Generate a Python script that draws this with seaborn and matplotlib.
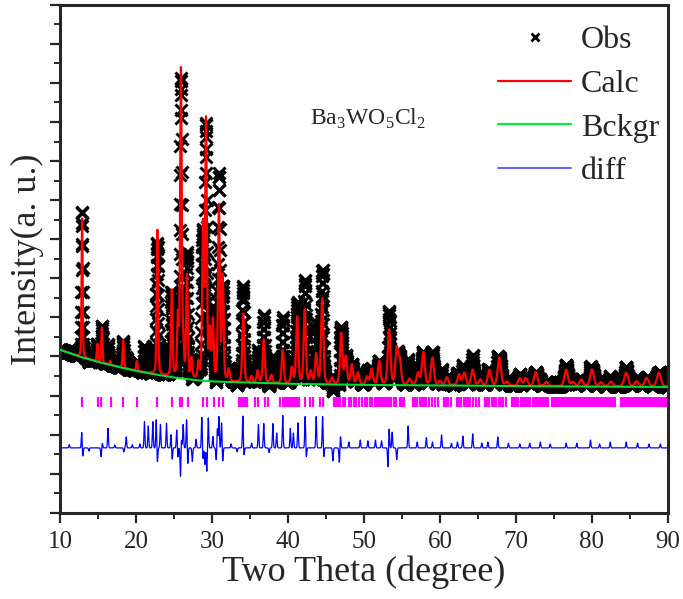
import numpy as np
import pandas as pd
import seaborn as sns
import matplotlib.pyplot as plt
from matplotlib.lines import Line2D
from matplotlib.ticker import MultipleLocator

# background points (2theta, intensity in axis units)
bkg_x = [10, 12.5, 15, 17.5, 20, 22.5, 25, 27.5, 30, 35, 40, 50, 60, 70, 80, 90]
bkg_y = [4.17, 4.0, 3.86, 3.74, 3.63, 3.54, 3.46, 3.40, 3.36, 3.33, 3.30, 3.27, 3.26, 3.24, 3.23, 3.22]

# calculated reflections: position and height above background
peak_pos = [12.9, 14.9, 15.5, 16.6, 18.3, 20.1, 22.8, 24.7, 25.5, 25.9, 26.2, 26.7,
            27.3, 28.2, 28.8, 29.2, 29.7, 30.1, 30.9, 31.4, 32.2, 34.1, 35.2, 36.0,
            36.8, 37.8, 39.3, 40.5, 41.2, 42.2, 43.0, 43.7, 44.5, 45.8, 47.0, 47.6,
            48.4, 49.2, 50.4, 51.0, 52.0, 53.3, 54.3, 54.7, 56.0, 57.1, 57.8, 59.0,
            60.0, 60.9, 62.5, 63.2, 64.3, 65.3, 66.5, 67.8, 68.8, 70.5, 71.3, 72.6,
            74.0, 76.6, 77.5, 78.6, 80.0, 81.2, 82.5, 84.5, 85.9, 87.2, 88.8]
peak_height = [3.55, 0.45, 0.9, 0.1, 0.7, 0.25, 3.7, 2.2, 1.5, 7.85, 0.8, 2.6,
               0.5, 0.4, 3.9, 6.6, 1.2, 1.5, 4.45, 2.65, 0.3, 1.75, 0.15, 0.3,
               1.1, 0.2, 0.85, 0.4, 1.7, 1.9, 0.3, 0.75, 2.18, 0.15, 1.3, 0.7,
               0.5, 0.3, 0.2, 0.4, 0.6, 1.4, 0.9, 0.6, 0.15, 0.3, 0.83, 0.7,
               0.1, 0.2, 0.27, 0.32, 0.4, 0.15, 0.4, 0.72, 0.1, 0.2, 0.2, 0.35,
               0.1, 0.42, 0.1, 0.17, 0.43, 0.1, 0.12, 0.35, 0.13, 0.22, 0.36]

# difference curve spikes (position, amplitude relative to its baseline)
diff_base = 1.66
diff_pos = [11.2, 12.85, 12.97, 13.8, 15.4, 15.55, 16.3, 17.2, 18.4, 18.7, 19.5, 20.5,
            21.1, 21.6, 22.2, 22.65, 22.8, 23.2, 24.0, 24.6, 24.75, 25.35, 25.5, 25.85,
            25.95, 26.2, 26.65, 26.8, 27.4, 27.9, 28.65, 28.8, 29.05, 29.3, 29.5, 30.1,
            30.55, 30.7, 30.9, 31.25, 31.4, 32.5, 33.3, 34.05, 34.2, 35.2, 36.1, 36.8,
            37.5, 38.0, 38.5, 39.3, 40.3, 40.7, 41.3, 42.25, 42.4, 43.7, 44.55, 44.7,
            45.9, 46.75, 46.9, 48.0, 49.5, 50.5, 51.5, 52.3, 53.15, 53.3, 53.7, 54.3,
            55.8, 57.0, 58.2, 59.0, 60.2, 61.5, 62.3, 63.0, 64.3, 65.5, 66.3, 67.6,
            69.0, 70.5, 71.8, 73.2, 74.5, 76.6, 78.0, 79.8, 81.0, 82.4, 84.5, 86.0,
            87.5, 89.0]
diff_amp = [0.08, 0.42, -0.25, -0.08, -0.23, 0.12, 0.5, 0.07, -0.1, 0.28, 0.08, 0.1,
            0.67, 0.56, 0.67, 0.74, -0.38, 0.6, 0.63, 0.35, -0.3, 0.47, -0.25, -0.79,
            0.3, 0.6, 0.74, -0.43, -0.35, 0.22, 0.8, -0.3, -0.43, -0.6, 0.77, 0.29,
            -0.32, 0.5, 0.8, 0.66, -0.36, 0.1, -0.1, 0.83, -0.2, 0.12, 0.6, 0.62,
            -0.12, 0.62, 0.38, 0.83, 0.5, 0.38, 0.64, 0.82, -0.25, 0.8, 0.82, -0.25,
            -0.33, -0.38, 0.3, 0.15, 0.2, 0.18, 0.2, 0.18, -0.5, 0.5, 0.4, -0.3,
            0.56, 0.15, 0.26, 0.15, 0.33, 0.12, 0.15, 0.3, 0.36, 0.12, 0.15, 0.28,
            0.12, 0.1, 0.12, 0.15, 0.1, 0.12, 0.12, 0.2, 0.1, 0.15, 0.15, 0.12,
            0.1, 0.1]

# Bragg positions (magenta ticks)
bragg_pos = [12.85, 14.96, 15.35, 16.67, 18.33, 20.18, 22.8, 24.7, 25.8, 26.1, 26.8,
             28.86, 29.3, 30.26, 30.96, 31.4, 33.6, 33.8, 34.0, 34.2, 34.4, 34.6, 35.66,
             36.1, 37.0, 37.3, 39.0, 39.3, 39.6, 39.9, 40.1, 40.4, 40.6, 40.9, 41.2,
             41.5, 42.2, 42.9, 43.3, 44.2, 44.65, 46.0, 46.3, 46.6, 46.9, 47.2, 47.5,
             48.0, 48.3, 48.7, 49.0, 49.4, 49.7, 50.1, 50.4, 50.8, 51.1, 51.4, 51.7,
             52.0, 52.2, 52.5, 52.8, 53.0, 53.3, 53.6, 53.9, 54.2, 54.7, 55.0, 55.3,
             56.4, 56.7, 57.0, 57.3, 57.6, 57.9, 58.2, 58.6, 59.0, 59.4, 59.7, 60.5,
             60.8, 61.1, 61.4, 62.2, 62.5, 62.8, 63.1, 63.4, 63.7, 64.0, 64.4, 64.8,
             65.1, 65.9, 66.2, 66.5, 66.8, 67.1, 67.4, 67.7, 68.0, 68.3, 68.7, 69.5,
             69.7, 69.9, 70.1, 70.3, 70.6, 70.8, 71.0, 71.2, 71.5, 71.7, 71.9, 72.2,
             72.4, 72.6, 72.9, 73.1, 73.4, 73.7, 74.0, 74.2, 74.7, 74.9, 75.1, 75.3,
             75.5, 75.7, 75.9, 76.1, 76.3, 76.5, 76.7, 76.9, 77.1, 77.3, 77.5, 77.7,
             77.9, 78.1, 78.3, 78.5, 78.7, 78.9, 79.1, 79.3, 79.5, 79.8, 80.0, 80.2,
             80.4, 80.6, 80.9, 81.1, 81.3, 81.6, 81.8, 82.0, 82.3, 82.5, 82.8, 83.0,
             83.8, 84.0, 84.2, 84.4, 84.6, 84.8, 85.0, 85.2, 85.4, 85.6, 85.8, 86.0,
             86.2, 86.4, 86.6, 86.8, 87.0, 87.2, 87.4, 87.6, 87.8, 88.0, 88.2, 88.4,
             88.6, 88.8, 89.0, 89.2, 89.4, 89.6, 89.8]

# profile built from the reflection list (pseudo-Voigt shapes)
tt = np.arange(10, 90.001, 0.02)
bkg = np.interp(tt, bkg_x, bkg_y)
calc = bkg.copy()
for p, h in zip(peak_pos, peak_height):
    w = 0.15 + 0.006 * (p - 10)
    g = np.exp(-4 * np.log(2) * ((tt - p) / w) ** 2)
    lz = 1 / (1 + 4 * ((tt - p) / w) ** 2)
    calc += h * (0.7 * g + 0.3 * lz)
diff = np.full_like(tt, diff_base)
for p, a in zip(diff_pos, diff_amp):
    diff += a * np.exp(-0.5 * ((tt - p) / 0.06) ** 2)
obs = calc + diff - diff_base

df = pd.DataFrame({"tt": tt, "obs": obs, "calc": calc, "bkg": bkg, "diff": diff})

sns.set_style("ticks")
plt.rcParams['font.family'] = ['Liberation Serif', 'DejaVu Serif']
plt.rcParams['mathtext.fontset'] = 'custom'
plt.rcParams['mathtext.rm'] = 'Liberation Serif'

fig, ax = plt.subplots(figsize=(6.83, 5.99), dpi=100)
fig.subplots_adjust(left=0.088, right=0.978, bottom=0.144, top=0.992)

sns.scatterplot(data=df, x="tt", y="obs", marker="x", color="black", s=75,
                linewidth=2.1, ax=ax, legend=False, zorder=2)
sns.lineplot(data=df, x="tt", y="calc", color="red", lw=1.6, ax=ax, zorder=3)
sns.lineplot(data=df, x="tt", y="bkg", color="#00dd33", lw=1.5, ax=ax, zorder=4)
ax.vlines(bragg_pos, 2.71, 2.97, color="#ff00ff", lw=1.6, zorder=4)
sns.lineplot(data=df, x="tt", y="diff", color="#0000ff", lw=0.9, ax=ax, zorder=4)

ax.text(42.9, 9.93, r"Ba$_3$WO$_5$Cl$_2$", fontsize=17, va="baseline")

ax.set_xlim(10, 90)
ax.set_ylim(0, 13)
ax.xaxis.set_major_locator(MultipleLocator(10))
ax.xaxis.set_minor_locator(MultipleLocator(5))
ax.yaxis.set_major_locator(MultipleLocator(1))
ax.yaxis.set_minor_locator(MultipleLocator(0.5))
ax.tick_params(which="major", length=7, width=1.6, labelsize=18, pad=6)
ax.tick_params(which="minor", length=4, width=1.4)
ax.tick_params(axis="y", labelleft=False)
for s in ax.spines.values():
    s.set_linewidth(2.2)
ax.set_xlabel("Two Theta (degree)", fontsize=26, labelpad=2)
ax.set_ylabel("Intensity(a. u.)", fontsize=26, labelpad=4)

handles = [Line2D([], [], ls="none", marker="x", color="black", markersize=6, mew=2),
           Line2D([], [], color="red", lw=1.6),
           Line2D([], [], color="#00ee44", lw=1.6),
           Line2D([], [], color="#4444ff", lw=1.2)]
ax.legend(handles, ["Obs", "Calc", "Bckgr", "diff"], loc="upper right", frameon=False,
          fontsize=23, handlelength=2.3, handletextpad=0.3, labelspacing=0.45,
          borderaxespad=0.1, bbox_to_anchor=(1.012, 0.99))

fig.savefig("out.png", dpi=100)
